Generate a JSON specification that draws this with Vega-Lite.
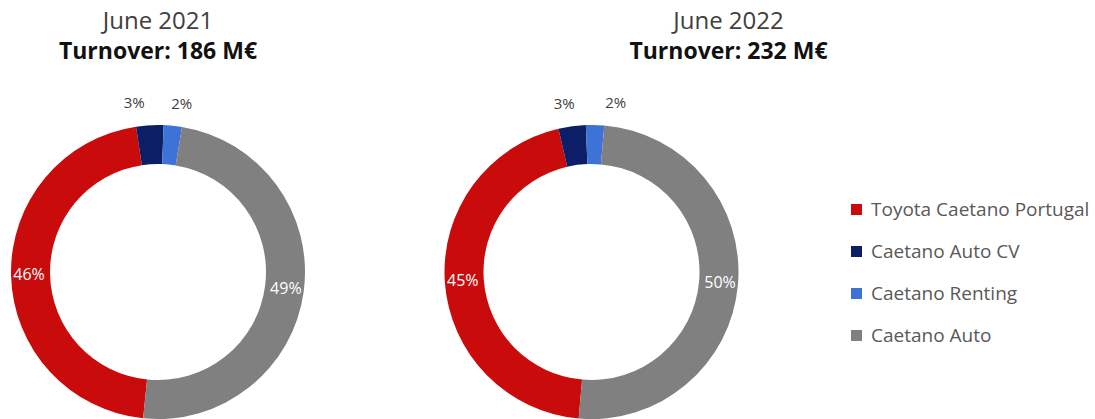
{
  "$schema": "https://vega.github.io/schema/vega-lite/v6.json",
  "background": "white",
  "padding": {"left": 0, "top": 10, "right": 0, "bottom": 0},
  "data": {
    "values": [
      {"year": 2021, "company": "Toyota Caetano Portugal", "value": 0.46, "idx": 1},
      {"year": 2021, "company": "Caetano Auto CV", "value": 0.03, "idx": 2},
      {"year": 2021, "company": "Caetano Renting", "value": 0.02, "idx": 3},
      {"year": 2021, "company": "Caetano Auto", "value": 0.49, "idx": 4},
      {"year": 2022, "company": "Toyota Caetano Portugal", "value": 0.45, "idx": 1},
      {"year": 2022, "company": "Caetano Auto CV", "value": 0.03, "idx": 2},
      {"year": 2022, "company": "Caetano Renting", "value": 0.02, "idx": 3},
      {"year": 2022, "company": "Caetano Auto", "value": 0.50, "idx": 4}
    ]
  },
  "spacing": 125.5,
  "bounds": "flush",
  "resolve": {"scale": {"theta": "independent"}},
  "hconcat": [
    {
      "width": 316,
      "height": 300,
      "title": {"text": "June 2021", "subtitle": "Turnover: 186 M€", "anchor": "middle", "frame": "group"},
      "transform": [{"filter": "datum.year == 2021"}],
      "encoding": {
        "theta": {"field": "value", "type": "quantitative", "stack": true, "scale": {"range": [3.2428, 9.5260]}},
        "order": {"field": "idx", "type": "quantitative"}
      },
      "layer": [
        {
          "mark": {"type": "arc", "outerRadius": 147, "innerRadius": 108},
          "encoding": {
            "color": {
              "field": "company", "type": "nominal",
              "scale": {"domain": ["Toyota Caetano Portugal", "Caetano Auto CV", "Caetano Renting", "Caetano Auto"], "range": ["#c90b0b", "#0c1f66", "#3d72d6", "#808080"]},
              "legend": {"orient": "none", "legendX": 847, "legendY": 78, "title": null, "symbolType": "square", "symbolSize": 121, "symbolStrokeWidth": 0, "labelFontSize": 19, "labelFont": "Open Sans", "labelColor": "#595959", "rowPadding": 22, "labelOffset": 5, "labelLimit": 400}
            }
          }
        },
        {
          "mark": {"type": "text", "radius": 129, "fill": "white", "font": "Open Sans", "fontSize": 16},
          "encoding": {
            "detail": {"field": "company", "type": "nominal"},
            "text": {"condition": {"test": "datum.value >= 0.1", "field": "value", "type": "quantitative", "format": ".0%"}, "value": ""}
          }
        },
        {
          "mark": {"type": "text", "radius": 150, "align": "right", "dx": -5, "dy": -19, "fill": "#404040", "font": "Open Sans", "fontSize": 15},
          "encoding": {
            "detail": {"field": "company", "type": "nominal"},
            "text": {"condition": {"test": "datum.company === 'Caetano Auto CV'", "field": "value", "type": "quantitative", "format": ".0%"}, "value": ""}
          }
        },
        {
          "mark": {"type": "text", "radius": 150, "align": "left", "dx": -2, "dy": -19, "fill": "#404040", "font": "Open Sans", "fontSize": 15},
          "encoding": {
            "detail": {"field": "company", "type": "nominal"},
            "text": {"condition": {"test": "datum.company === 'Caetano Renting'", "field": "value", "type": "quantitative", "format": ".0%"}, "value": ""}
          }
        }
      ]
    },
    {
      "width": 300,
      "height": 300,
      "title": {"text": "June 2022", "subtitle": "Turnover: 232 M€", "anchor": "middle", "frame": "group", "dx": 137},
      "transform": [{"filter": "datum.year == 2022"}],
      "encoding": {
        "theta": {"field": "value", "type": "quantitative", "stack": true, "scale": {"range": [3.2289, 9.5121]}},
        "order": {"field": "idx", "type": "quantitative"}
      },
      "layer": [
        {
          "mark": {"type": "arc", "outerRadius": 147, "innerRadius": 108},
          "encoding": {
            "color": {"field": "company", "type": "nominal"}
          }
        },
        {
          "mark": {"type": "text", "radius": 129, "fill": "white", "font": "Open Sans", "fontSize": 16},
          "encoding": {
            "detail": {"field": "company", "type": "nominal"},
            "text": {"condition": {"test": "datum.value >= 0.1", "field": "value", "type": "quantitative", "format": ".0%"}, "value": ""}
          }
        },
        {
          "mark": {"type": "text", "radius": 150, "align": "right", "dx": 3, "dy": -19, "fill": "#404040", "font": "Open Sans", "fontSize": 15},
          "encoding": {
            "detail": {"field": "company", "type": "nominal"},
            "text": {"condition": {"test": "datum.company === 'Caetano Auto CV'", "field": "value", "type": "quantitative", "format": ".0%"}, "value": ""}
          }
        },
        {
          "mark": {"type": "text", "radius": 150, "align": "left", "dx": 10, "dy": -19, "fill": "#404040", "font": "Open Sans", "fontSize": 15},
          "encoding": {
            "detail": {"field": "company", "type": "nominal"},
            "text": {"condition": {"test": "datum.company === 'Caetano Renting'", "field": "value", "type": "quantitative", "format": ".0%"}, "value": ""}
          }
        }
      ]
    }
  ],
  "config": {
    "view": {"stroke": null},
    "title": {"font": "Open Sans", "fontSize": 24, "fontWeight": "normal", "color": "#404040", "subtitleFont": "Open Sans", "subtitleFontSize": 23, "subtitleFontWeight": "bold", "subtitleColor": "#111111", "subtitlePadding": 7, "offset": 32}
  }
}
